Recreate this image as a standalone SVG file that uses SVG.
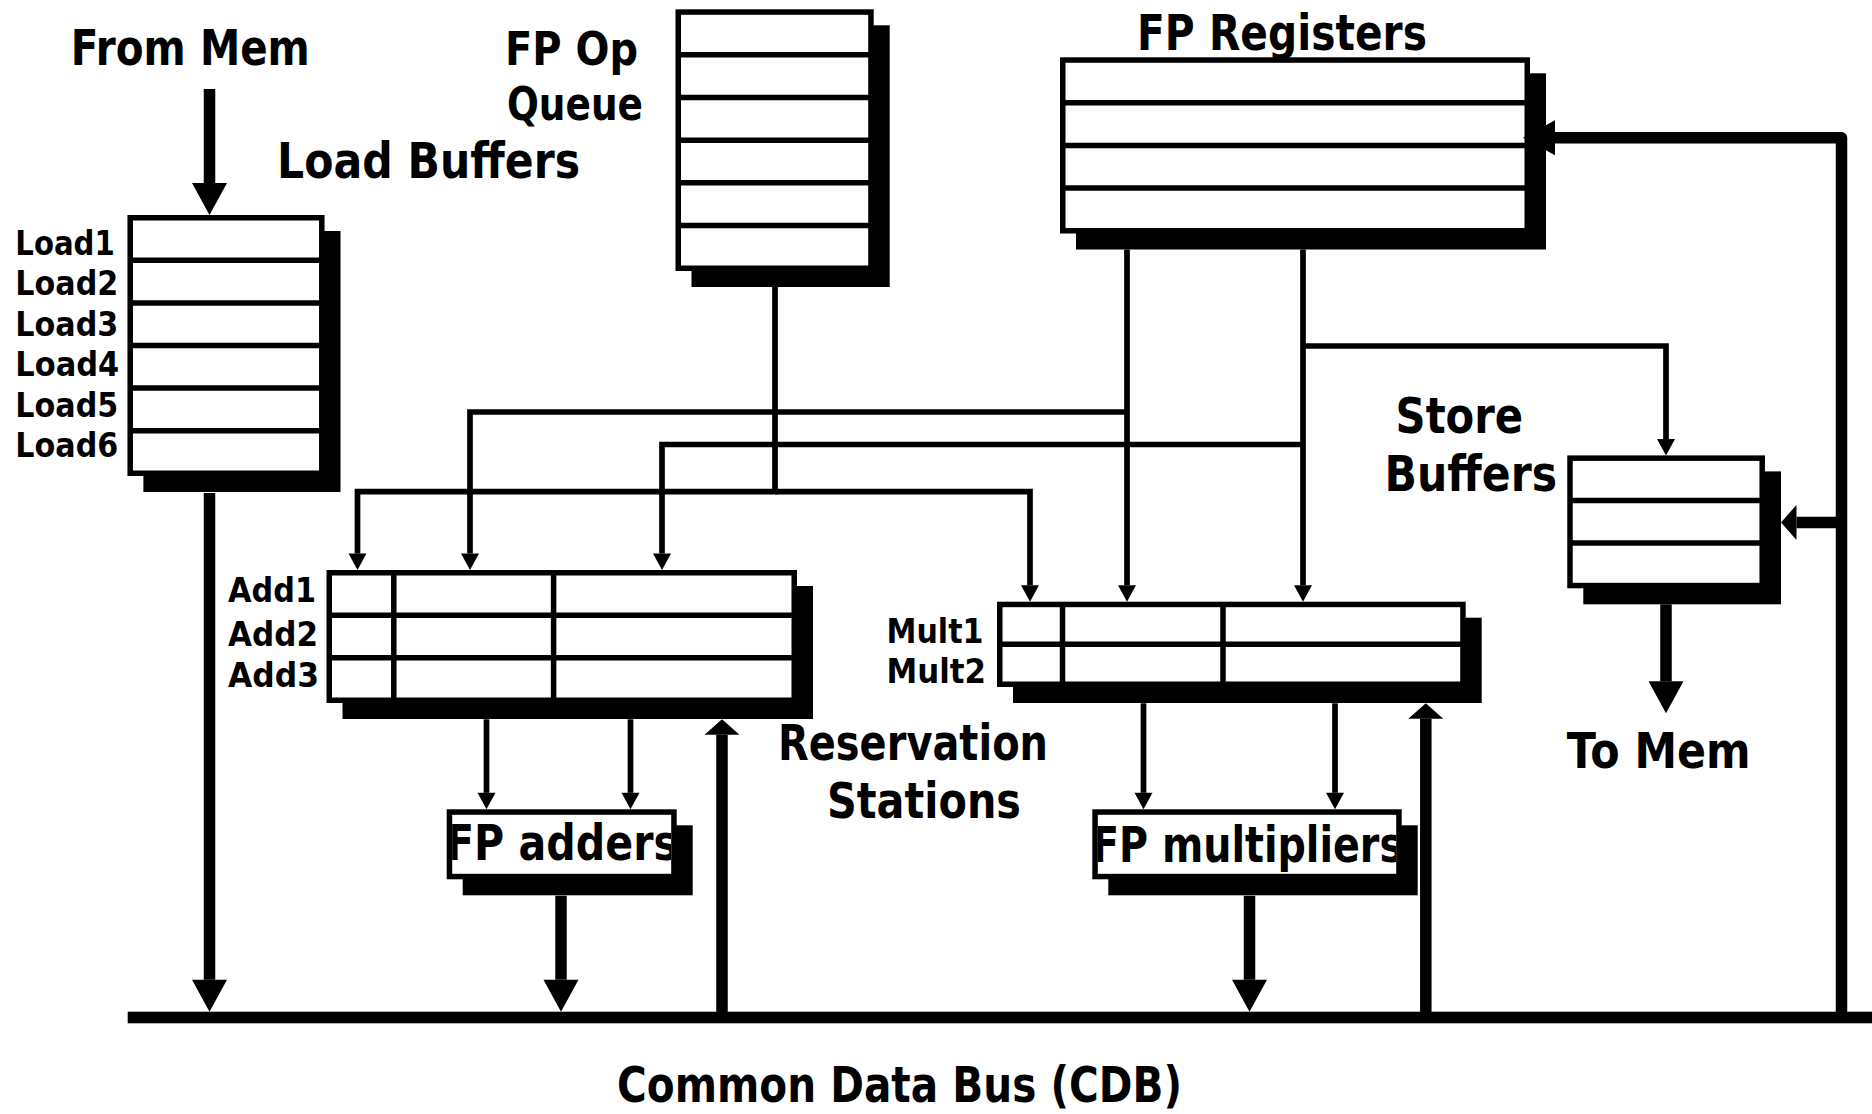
<svg xmlns="http://www.w3.org/2000/svg" width="1872" height="1114" viewBox="0 0 1872 1114">
  <style>
    .shadow { fill: #000; }
    .box { fill: #fff; stroke: #000; stroke-width: 5.5; }
    .div { stroke: #000; stroke-width: 5.5; fill: none; }
    .thin { fill: none; stroke: #000; stroke-width: 5.7; stroke-linejoin: miter; }
    .thick { fill: none; stroke: #000; stroke-width: 11.5; stroke-linejoin: round; }
    .bus { fill: #000; }
    .lbl { font-family: "DejaVu Sans", "Liberation Sans", sans-serif; font-weight: bold; font-size: 49px; fill: #000; }
    .q { font-size: 46px; }
    .sm { font-family: "DejaVu Sans", "Liberation Sans", sans-serif; font-weight: bold; font-size: 34px; fill: #000; }
  </style>
  <defs>
    <!-- thin connector head -->
    <marker id="ah" markerUnits="userSpaceOnUse" markerWidth="20" markerHeight="20" refX="0" refY="0" orient="auto" overflow="visible">
      <path d="M0,-9 L16.5,0 L0,9 Z" fill="#000"/>
    </marker>
    <!-- long head for thick lines -->
    <marker id="ahL" markerUnits="userSpaceOnUse" markerWidth="40" markerHeight="40" refX="0" refY="0" orient="auto" overflow="visible">
      <path d="M0,-17.5 L32,0 L0,17.5 Z" fill="#000"/>
    </marker>
    <!-- short head for thick lines -->
    <marker id="ahS" markerUnits="userSpaceOnUse" markerWidth="40" markerHeight="40" refX="0" refY="0" orient="auto" overflow="visible">
      <path d="M0,-17.5 L15.5,0 L0,17.5 Z" fill="#000"/>
    </marker>
    <clipPath id="clipAdd"><rect x="452.2" y="814.8" width="218.8" height="59"/></clipPath>
    <clipPath id="clipMul"><rect x="1097.8" y="814.8" width="298.4" height="59"/></clipPath>
  </defs>

  <rect width="1872" height="1114" fill="#fff"/>

  <!-- Load buffers -->
  <g id="load-buffers">
    <rect class="shadow" x="143.4" y="231" width="197.1" height="261"/>
    <rect class="box" x="130.2" y="217.75" width="191.6" height="255.5"/>
    <path class="div" d="M130.2,260.3H321.8M130.2,302.9H321.8M130.2,345.5H321.8M130.2,388.1H321.8M130.2,430.8H321.8"/>
    <text class="sm" x="15.3" y="255" textLength="99.5" lengthAdjust="spacingAndGlyphs">Load1</text>
    <text class="sm" x="15.3" y="295" textLength="103" lengthAdjust="spacingAndGlyphs">Load2</text>
    <text class="sm" x="15.3" y="335.5" textLength="103" lengthAdjust="spacingAndGlyphs">Load3</text>
    <text class="sm" x="15.3" y="376" textLength="104" lengthAdjust="spacingAndGlyphs">Load4</text>
    <text class="sm" x="15.3" y="416.5" textLength="103" lengthAdjust="spacingAndGlyphs">Load5</text>
    <text class="sm" x="15.3" y="457" textLength="103" lengthAdjust="spacingAndGlyphs">Load6</text>
  </g>

  <!-- FP operation queue -->
  <g id="fp-op-queue">
    <rect class="shadow" x="691.5" y="25.3" width="198.2" height="261.7"/>
    <rect class="box" x="678.25" y="12.05" width="192.7" height="256.2"/>
    <path class="div" d="M678.25,54.75H870.95M678.25,97.45H870.95M678.25,140.15H870.95M678.25,182.85H870.95M678.25,225.55H870.95"/>
  </g>

  <!-- FP registers -->
  <g id="fp-registers">
    <rect class="shadow" x="1076" y="73.3" width="470" height="176.2"/>
    <rect class="box" x="1062.75" y="60.05" width="464.5" height="170.7"/>
    <path class="div" d="M1062.75,102.7H1527.25M1062.75,145.4H1527.25M1062.75,188.1H1527.25"/>
  </g>

  <!-- Store buffers -->
  <g id="store-buffers">
    <rect class="shadow" x="1583.3" y="471.4" width="197.7" height="132.9"/>
    <rect class="box" x="1570" y="458.15" width="192.2" height="127.4"/>
    <path class="div" d="M1570,500.6H1762.2M1570,543.1H1762.2"/>
  </g>

  <!-- Add reservation stations -->
  <g id="add-stations">
    <rect class="shadow" x="342.5" y="586" width="470.5" height="133"/>
    <rect class="box" x="329.25" y="572.75" width="465" height="127.5"/>
    <path class="div" d="M329.25,615.25H794.25M329.25,657.75H794.25M393.8,572.75V700.25M553.6,572.75V700.25"/>
    <text class="sm" x="228" y="601.7" textLength="88" lengthAdjust="spacingAndGlyphs">Add1</text>
    <text class="sm" x="228" y="645.7" textLength="90" lengthAdjust="spacingAndGlyphs">Add2</text>
    <text class="sm" x="228" y="686.7" textLength="91" lengthAdjust="spacingAndGlyphs">Add3</text>
  </g>

  <!-- Mult reservation stations -->
  <g id="mult-stations">
    <rect class="shadow" x="1013" y="617.7" width="468.7" height="85.3"/>
    <rect class="box" x="999.75" y="604.45" width="463.2" height="79.8"/>
    <path class="div" d="M999.75,644.35H1462.95M1062.5,604.45V684.25M1223,604.45V684.25"/>
    <text class="sm" x="886.5" y="643.3" textLength="97" lengthAdjust="spacingAndGlyphs">Mult1</text>
    <text class="sm" x="886.5" y="683.3" textLength="99.5" lengthAdjust="spacingAndGlyphs">Mult2</text>
  </g>

  <!-- FP adders -->
  <g id="fp-adders">
    <rect class="shadow" x="462.7" y="825.3" width="230" height="70"/>
    <rect class="box" x="449.45" y="812.05" width="224.5" height="64.5"/>
    <text class="lbl" x="446" y="860" textLength="232" lengthAdjust="spacingAndGlyphs" clip-path="url(#clipAdd)">FP adders</text>
  </g>

  <!-- FP multipliers -->
  <g id="fp-multipliers">
    <rect class="shadow" x="1108.3" y="825.3" width="309.4" height="70"/>
    <rect class="box" x="1095.05" y="812.05" width="303.9" height="64.5"/>
    <text class="lbl" x="1092" y="861.7" textLength="311" lengthAdjust="spacingAndGlyphs" clip-path="url(#clipMul)">FP multipliers</text>
  </g>

  <!-- Free-standing labels -->
  <g id="labels">
    <text class="lbl" x="70.8" y="65" textLength="239" lengthAdjust="spacingAndGlyphs">From Mem</text>
    <text class="lbl q" x="505" y="65" textLength="133" lengthAdjust="spacingAndGlyphs">FP Op</text>
    <text class="lbl q" x="507" y="120" textLength="136" lengthAdjust="spacingAndGlyphs">Queue</text>
    <text class="lbl" x="277" y="178" textLength="303" lengthAdjust="spacingAndGlyphs">Load Buffers</text>
    <text class="lbl" x="1137" y="50" textLength="290" lengthAdjust="spacingAndGlyphs">FP Registers</text>
    <text class="lbl" x="1395.6" y="432.5" textLength="127.5" lengthAdjust="spacingAndGlyphs">Store</text>
    <text class="lbl" x="1384.6" y="490.6" textLength="172.5" lengthAdjust="spacingAndGlyphs">Buffers</text>
    <text class="lbl" x="778" y="760" textLength="270" lengthAdjust="spacingAndGlyphs">Reservation</text>
    <text class="lbl" x="827" y="818" textLength="194" lengthAdjust="spacingAndGlyphs">Stations</text>
    <text class="lbl" x="1566.7" y="768" textLength="184" lengthAdjust="spacingAndGlyphs">To Mem</text>
    <text class="lbl" x="617" y="1102" textLength="565" lengthAdjust="spacingAndGlyphs">Common Data Bus (CDB)</text>
  </g>

  <!-- Connectors -->
  <g id="connectors">
    <!-- common data bus -->
    <rect class="bus" x="127.7" y="1011.7" width="1744.3" height="11.6"/>

    <!-- operation queue issue lines -->
    <path class="thin" d="M775,287V491.7H357.5V553.5" marker-end="url(#ah)"/>
    <path class="thin" d="M775,491.7H1030V585.2" marker-end="url(#ah)"/>

    <!-- register operand lines -->
    <path class="thin" d="M1127,249.5V585.2" marker-end="url(#ah)"/>
    <path class="thin" d="M1127,412H470V553.5" marker-end="url(#ah)"/>
    <path class="thin" d="M1303,249.5V585.2" marker-end="url(#ah)"/>
    <path class="thin" d="M1303,444.5H662V553.5" marker-end="url(#ah)"/>
    <path class="thin" d="M1303,346H1666V438.9" marker-end="url(#ah)"/>

    <!-- stations to functional units -->
    <path class="thin" d="M486.5,719.3V792.8" marker-end="url(#ah)"/>
    <path class="thin" d="M630.5,719.3V792.8" marker-end="url(#ah)"/>
    <path class="thin" d="M1143.5,703.3V792.8" marker-end="url(#ah)"/>
    <path class="thin" d="M1335,703.3V792.8" marker-end="url(#ah)"/>

    <!-- memory and result paths -->
    <path class="thick" d="M209.5,89V183" marker-end="url(#ahL)"/>
    <path class="thick" d="M209.5,493V979.7" marker-end="url(#ahL)"/>
    <path class="thick" d="M561,895.7V979.7" marker-end="url(#ahL)"/>
    <path class="thick" d="M1249.5,895.7V979.7" marker-end="url(#ahL)"/>
    <path class="thick" d="M1666,604.3V681.3" marker-end="url(#ahL)"/>

    <!-- CDB broadcast back to stations, registers and store buffers -->
    <path class="thick" d="M722,1012V734.8" marker-end="url(#ahS)"/>
    <path class="thick" d="M1425.8,1012V718.8" marker-end="url(#ahS)"/>
    <path class="thick" d="M1841.5,1012V137.8H1555" marker-end="url(#ahL)"/>
    <path class="thick" d="M1841.5,522.4H1796.5" marker-end="url(#ahS)"/>
  </g>
</svg>
